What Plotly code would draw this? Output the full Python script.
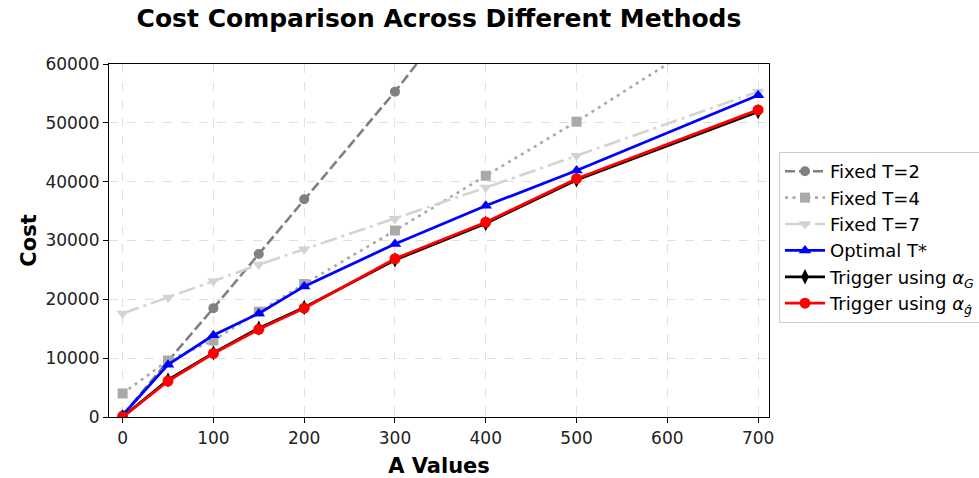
import plotly.graph_objects as go

A_values = [0, 50, 100, 150, 200, 300, 400, 500, 700]
fixed_t2 = [300, 9500, 18500, 27700, 37000, 55300, 75000, 94500, 133000]
fixed_t4 = [4000, 9600, 13000, 17900, 22600, 31700, 41000, 50200, 69800]
fixed_t7 = [17600, 20300, 23100, 25900, 28500, 33700, 39000, 44400, 55300]
optimal_t = [300, 8900, 13900, 17600, 22200, 29400, 35900, 41900, 54700]
trigger_G = [0, 6300, 10900, 15100, 18600, 26700, 32900, 40300, 51900]
trigger_g = [0, 6100, 10800, 14900, 18500, 26900, 33100, 40500, 52200]

x_ticks = [0, 100, 200, 300, 400, 500, 600, 700]
y_ticks = [0, 10000, 20000, 30000, 40000, 50000, 60000]
y_tick_labels = ["0", "10000", "20000", "30000", "40000", "50000", "60000"]

FONT = "DejaVu Sans"

series = [
    ("Fixed T=2", fixed_t2, "#808080", "10px,4px", "circle", 10, 2.6),
    ("Fixed T=4", fixed_t4, "#a9a9a9", "3px,4.5px", "square", 10, 2.6),
    ("Fixed T=7", fixed_t7, "#d3d3d3", "17px,5px,3px,5px", "triangle-down", 11, 2.6),
    ("Optimal T*", optimal_t, "#0000ff", "solid", "triangle-up", 11, 2.8),
    ("Trigger using <i>α</i><sub><i>G</i></sub>", trigger_G, "#000000", "solid", "diamond-tall", 11, 2.8),
    ("Trigger using <i>α</i><sub><i>ĝ</i></sub>", trigger_g, "#ff0000", "solid", "circle", 11, 2.8),
]

fig = go.Figure()
for name, ys, color, dash, sym, msize, lw in series:
    fig.add_trace(go.Scatter(
        x=A_values, y=ys, name=name, mode="lines+markers",
        line=dict(color=color, width=lw, dash=dash),
        marker=dict(color=color, symbol=sym, size=msize, line=dict(width=0)),
        cliponaxis=True,
    ))

axis_common = dict(
    showline=True, linecolor="black", linewidth=1.2, mirror=True,
    ticks="outside", ticklen=5, tickwidth=1.2, tickcolor="black",
    showgrid=True, gridcolor="rgba(0,0,0,0.12)", griddash="dash", gridwidth=1,
    zeroline=False, automargin=False,
    tickfont=dict(family=FONT, size=17, color="#222222"),
)

fig.update_layout(
    width=979, height=478,
    margin=dict(l=109, r=210, t=64, b=61, autoexpand=False),
    paper_bgcolor="white", plot_bgcolor="white",
    font=dict(family=FONT, color="black"),
    title=dict(text="<b>Cost Comparison Across Different Methods</b>",
               x=0.5, xref="paper", xanchor="center",
               y=1 - 9 / 478, yref="container", yanchor="top",
               font=dict(family=FONT, size=25, color="black")),
    xaxis=dict(range=[-15, 712], tickvals=x_ticks,
               title=dict(text="<b>A Values</b>", font=dict(family=FONT, size=21), standoff=11),
               **axis_common),
    yaxis=dict(range=[0, 60000], tickvals=y_ticks, ticktext=y_tick_labels,
               title=dict(text="<b>Cost</b>", font=dict(family=FONT, size=21), standoff=3),
               **axis_common),
    legend=dict(
        xref="container", yref="container",
        x=779 / 979, y=1 - 152 / 478, xanchor="left", yanchor="top",
        bgcolor="white", bordercolor="#cccccc", borderwidth=1,
        font=dict(family=FONT, size=18, color="black"),
        tracegroupgap=0, itemwidth=40,
    ),
    showlegend=True,
)

fig.write_html("out.html", config={"displayModeBar": False},
               post_script="document.body.style.margin='0';")
